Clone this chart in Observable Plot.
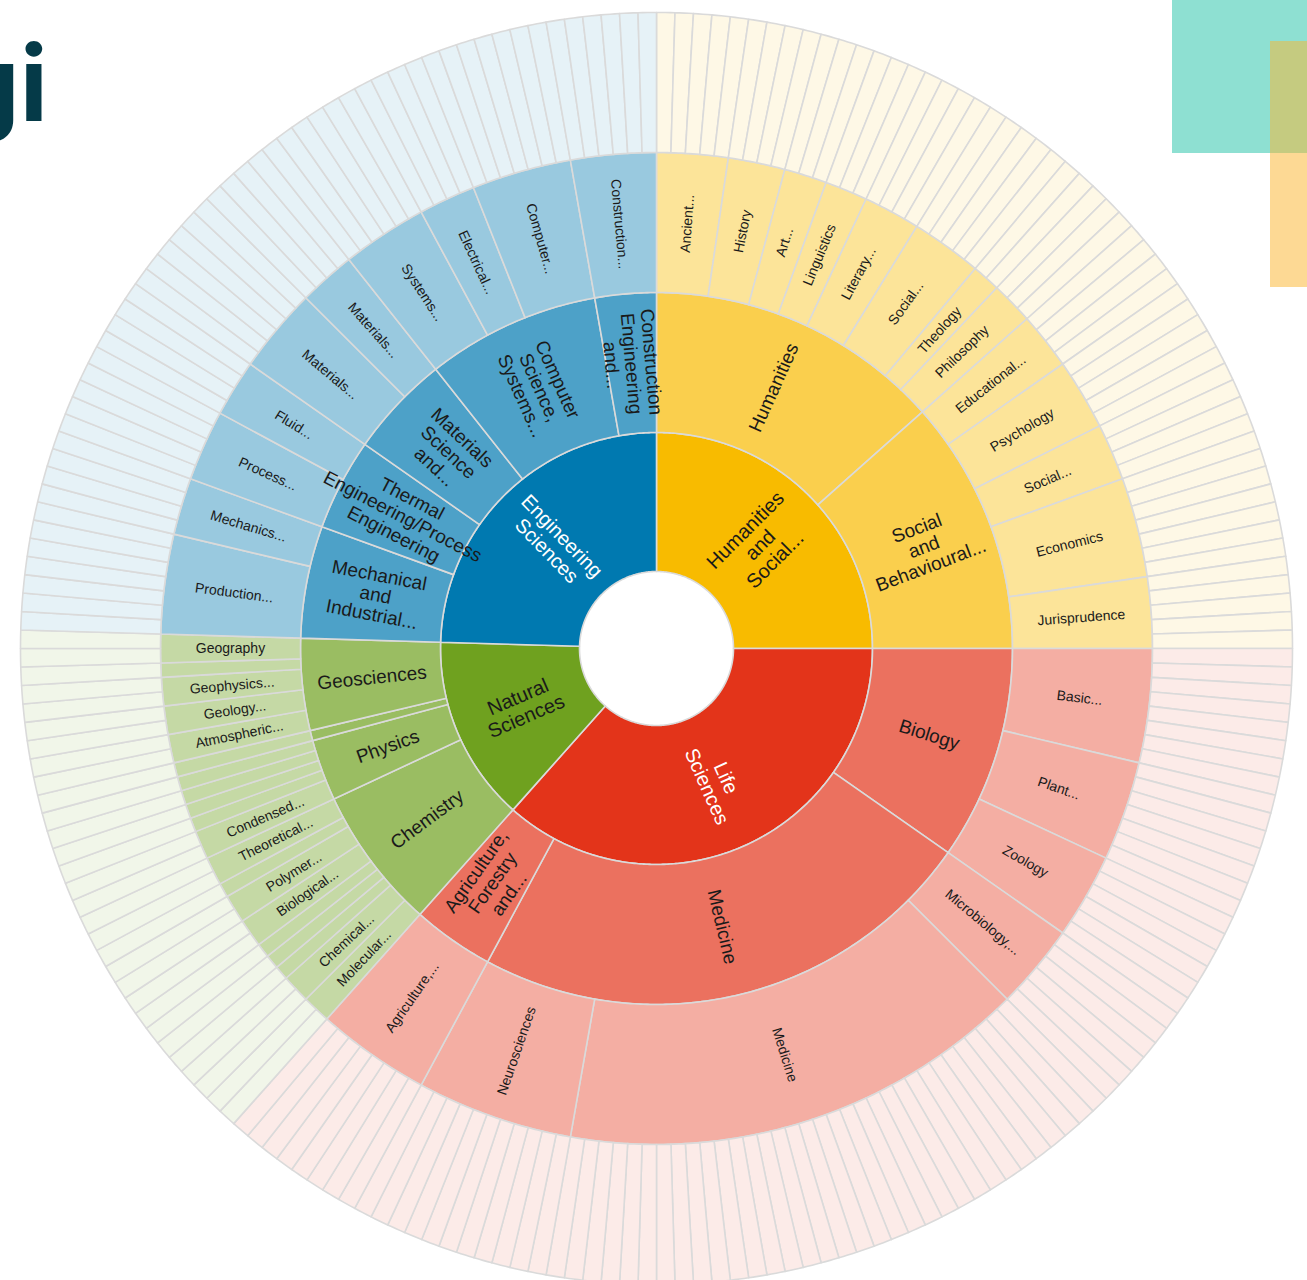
<!DOCTYPE html>
<html>
<head>
<meta charset="utf-8">
<script src="https://cdn.jsdelivr.net/npm/d3@7"></script>
<script src="https://cdn.jsdelivr.net/npm/@observablehq/plot@0.6"></script>
<style>
html, body { margin:0; padding:0; background:#fff; width:1307px; height:1280px; overflow:hidden; position:relative; font-family:"Liberation Sans", Arial, sans-serif; }
#chart { position:absolute; left:0; top:0; }
.deco { position:absolute; }
</style>
</head>
<body>
<div id="chart"></div>
<div class="deco" style="left:1172px;top:0;width:135px;height:153px;background:#8EE0D2"></div>
<div class="deco" style="left:1270px;top:153px;width:37px;height:134px;background:#FDD994"></div>
<div class="deco" style="left:1270px;top:41px;width:37px;height:112px;background:#C5CB80"></div>
<svg class="deco" style="left:0;top:0" width="220" height="170"><text x="-46" y="121" font-family="Inter" font-weight="700" font-size="104" fill="#053A48">gi</text></svg>
<script>
// ---------- DATA ----------
const disciplines = [
  "Humanities and Social Sciences",
  "Life Sciences",
  "Natural Sciences",
  "Engineering Sciences"
];

const researchAreas = [
  "Humanities",
  "Social and Behavioural Sciences",
  "Biology",
  "Medicine",
  "Agriculture, Forestry and Veterinary Medicine",
  "Chemistry",
  "Physics",
  "Mathematics",
  "Geosciences",
  "Mechanical and Industrial Engineering",
  "Thermal Engineering/Process Engineering",
  "Materials Science and Engineering",
  "Computer Science, Systems and Electrical Engineering",
  "Construction Engineering and Architecture"
];
const areaDiscipline = [0, 0, 1, 1, 1, 2, 2, 2, 2, 3, 3, 3, 3, 3];

const reviewBoards = [
  "Ancient Cultures",
  "History",
  "Art History, Music, Theatre and Media Studies",
  "Linguistics",
  "Literary Studies",
  "Social and Cultural Anthropology, Non-European Cultures, Jewish Studies and Religious Studies",
  "Theology",
  "Philosophy",
  "Educational Research",
  "Psychology",
  "Social Sciences",
  "Economics",
  "Jurisprudence",
  "Basic Research in Biology and Medicine",
  "Plant Sciences",
  "Zoology",
  "Microbiology, Virology and Immunology",
  "Medicine",
  "Neurosciences",
  "Agriculture, Forestry and Veterinary Medicine",
  "Molecular Chemistry",
  "Chemical Solid State and Surface Research",
  "Analytical Chemistry, Method Development",
  "Food Chemistry",
  "Inorganic Chemistry",
  "Biological Chemistry",
  "Polymer Research",
  "Physical Chemistry",
  "Theoretical Chemistry",
  "Condensed Matter Physics",
  "Optics, Quantum Optics and Physics of Atoms, Molecules and Plasmas",
  "Particles, Nuclei and Fields",
  "Statistical Physics, Soft Matter, Biological Physics, Nonlinear Dynamics",
  "Astrophysics and Astronomy",
  "Mathematics",
  "Atmospheric Science, Oceanography and Climate Research",
  "Geology and Palaeontology",
  "Geophysics and Geodesy",
  "Geochemistry, Mineralogy and Crystallography",
  "Geography",
  "Production Technology",
  "Mechanics and Constructive Mechanical Engineering",
  "Process Engineering, Technical Chemistry",
  "Fluid Mechanics, Technical Thermodynamics and Thermal Energy Engineering",
  "Materials Engineering",
  "Materials Science",
  "Systems Engineering",
  "Electrical Engineering and Information Technology",
  "Computer Science",
  "Construction Engineering and Architecture"
];
const boardArea = [
  0,0,0,0,0,0,0,0,
  1,1,1,1,1,
  2,2,2,
  3,3,3,
  4,
  5,5,5,5,5,5,5,5,5,
  6,6,6,6,6,
  7,
  8,8,8,8,8,
  9,9,
  10,10,
  11,11,
  12,12,12,
  13
];
// number of subject areas (outermost ring) in each review board
const subjectCounts = [
  5,4,3,3,4,5,2,3,
  4,5,4,7,5,
  8,7,6,
  6,33,11,
  8,
  2,2,1,1,1,2,2,1,2,
  2,1,1,1,1,
  1,
  2,2,2,1,2,
  7,4,
  5,4,
  6,4,
  6,4,7,
  6
];

// ---------- STYLE ----------
const disciplineColors = ["#F8BB00", "#E3341A", "#6FA11F", "#0079B0"];
const disciplineInk = ["#1a1a1a", "#ffffff", "#1a1a1a", "#ffffff"];
const levelOpacity = [1, 0.7, 0.4, 0.1];
const ringRadii = [77, 216, 356, 496, 636];

// ---------- HIERARCHY ----------
const root = {name: "All", children: disciplines.map((d, i) => ({name: d, di: i, children: []}))};
const areaNodes = researchAreas.map((a, i) => {
  const n = {name: a, di: areaDiscipline[i], children: []};
  root.children[areaDiscipline[i]].children.push(n);
  return n;
});
reviewBoards.forEach((b, i) => {
  const parent = areaNodes[boardArea[i]];
  const n = {name: b, di: parent.di, children: d3.range(subjectCounts[i]).map(k => ({name: b + " – subject " + (k + 1), di: parent.di, value: 1}))};
  parent.children.push(n);
});
const h = d3.hierarchy(root).sum(d => d.value || 0);
d3.partition().size([2 * Math.PI, 1])(h);
const nodes = h.descendants().filter(d => d.depth > 0);

// polygon outline of each arc (in pixel-sized data units around the center)
const step = Math.PI / 360;
const rows = [];
nodes.forEach((d, idx) => {
  const r0 = ringRadii[d.depth - 1], r1 = ringRadii[d.depth];
  const n = Math.max(2, Math.ceil((d.x1 - d.x0) / step));
  const pts = [];
  for (let k = 0; k <= n; k++) { const a = d.x0 + (d.x1 - d.x0) * k / n; pts.push([r1 * Math.sin(a), -r1 * Math.cos(a)]); }
  for (let k = n; k >= 0; k--) { const a = d.x0 + (d.x1 - d.x0) * k / n; pts.push([r0 * Math.sin(a), -r0 * Math.cos(a)]); }
  pts.push(pts[0]);
  const fill = d3.interpolateRgb("#ffffff", disciplineColors[d.data.di])(levelOpacity[d.depth - 1]);
  pts.forEach(p => rows.push({id: idx, x: p[0], y: p[1], fill}));
});

// labels
const labels = nodes.filter(d => d.depth <= 2 ? d.value >= 3 : (d.depth === 3 && d.value >= 2)).map(d => {
  const a = (d.x0 + d.x1) / 2, deg = a * 180 / Math.PI, r = (ringRadii[d.depth - 1] + ringRadii[d.depth]) / 2;
  const words = d.data.name.split(" ");
  let text;
  if (d.depth === 3) text = words.length > 1 ? words[0] + "..." : words[0];
  else text = (words.length <= 3 ? words : [words[0], words[1], words[2] + "..."]).join("\n");
  return {x: r * Math.sin(a), y: -r * Math.cos(a), text, rotate: deg < 180 ? deg - 90 : deg - 270, depth: d.depth,
          ink: d.depth === 1 ? disciplineInk[d.data.di] : "#1a1a1a"};
});

const chart = Plot.plot({
  width: 1307, height: 1280, margin: 0,
  x: {domain: [-656, 651], range: [0, 1307], axis: null},
  y: {domain: [-648, 632], range: [0, 1280], axis: null},
  color: {type: "identity"},
  style: {background: "transparent"},
  marks: [
    Plot.line(rows, {x: "x", y: "y", z: "id", fill: "fill", stroke: "#dadada", strokeWidth: 1.6, strokeLinejoin: "round"}),
    Plot.text(labels.filter(d => d.depth === 1), {x: "x", y: "y", text: "text", rotate: "rotate", fill: "ink", fontSize: 20, lineHeight: 1.05, fontFamily: "Liberation Sans"}),
    Plot.text(labels.filter(d => d.depth === 2), {x: "x", y: "y", text: "text", rotate: "rotate", fill: "ink", fontSize: 19, lineHeight: 1.05, fontFamily: "Liberation Sans"}),
    Plot.text(labels.filter(d => d.depth === 3), {x: "x", y: "y", text: "text", rotate: "rotate", fill: "ink", fontSize: 14, fontFamily: "Liberation Sans"})
  ]
});
document.getElementById("chart").appendChild(chart);
</script>
</body>
</html>
